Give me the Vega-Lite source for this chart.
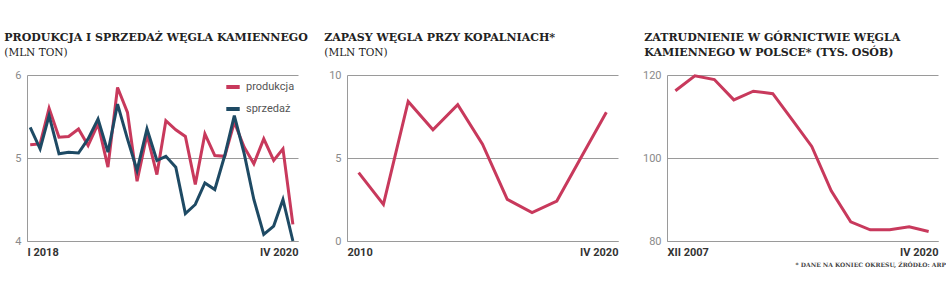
{
  "$schema": "https://vega.github.io/schema/vega-lite/v6.json",
  "background": "white",
  "padding": {"left": 4, "top": 31, "right": 0, "bottom": 0},
  "spacing": 49,
  "bounds": "flush",
  "resolve": {"scale": {"color": "independent"}, "legend": {"color": "independent"}},
  "config": {
    "view": {"stroke": null},
    "axis": {"grid": false, "ticks": false, "domainColor": "#9a9a9a", "domainWidth": 1, "labelColor": "#8a8a8a", "labelFont": "Liberation Sans Narrow, Roboto, sans-serif", "labelFontSize": 11, "title": null},
    "axisY": {"grid": true, "gridColor": "#9a9a9a", "gridWidth": 1, "labelPadding": 6, "format": "d"},
    "axisX": {"labelColor": "#333333", "labelFontWeight": "bold", "labelPadding": 5, "labelFlush": true, "labelFontSize": 11},
    "title": {"anchor": "start", "frame": "group", "font": "DejaVu Serif", "fontSize": 11, "fontWeight": "bold", "color": "#222222", "subtitleFont": "DejaVu Serif", "subtitleFontSize": 10.5, "subtitleColor": "#222222", "dx": -22.7, "offset": 11, "subtitlePadding": 5, "lineHeight": 15},
    "legend": {"orient": "top-right", "offset": 0, "padding": 3, "symbolType": "stroke", "symbolStrokeWidth": 4, "symbolSize": 180, "labelFont": "Liberation Sans Narrow, Roboto, sans-serif", "labelFontSize": 11, "labelColor": "#555555", "rowPadding": 5, "title": null}
  },
  "title": {"text": "* DANE NA KONIEC OKRESU, ŹRÓDŁO: ARP", "orient": "bottom", "anchor": "end", "frame": "bounds", "font": "DejaVu Serif", "fontSize": 6, "fontWeight": "bold", "color": "#444444", "dx": 8, "offset": 5},
  "hconcat": [
    {
      "width": 271,
      "height": 166,
      "title": {"text": "PRODUKCJA I SPRZEDAŻ WĘGLA KAMIENNEGO", "subtitle": "(MLN TON)"},
      "data": {"values": [
        {"miesiac": "2018-01-01", "seria": "produkcja", "wartosc": 5.16},
        {"miesiac": "2018-02-01", "seria": "produkcja", "wartosc": 5.17},
        {"miesiac": "2018-03-01", "seria": "produkcja", "wartosc": 5.60},
        {"miesiac": "2018-04-01", "seria": "produkcja", "wartosc": 5.25},
        {"miesiac": "2018-05-01", "seria": "produkcja", "wartosc": 5.26},
        {"miesiac": "2018-06-01", "seria": "produkcja", "wartosc": 5.35},
        {"miesiac": "2018-07-01", "seria": "produkcja", "wartosc": 5.15},
        {"miesiac": "2018-08-01", "seria": "produkcja", "wartosc": 5.41},
        {"miesiac": "2018-09-01", "seria": "produkcja", "wartosc": 4.89},
        {"miesiac": "2018-10-01", "seria": "produkcja", "wartosc": 5.85},
        {"miesiac": "2018-11-01", "seria": "produkcja", "wartosc": 5.55},
        {"miesiac": "2018-12-01", "seria": "produkcja", "wartosc": 4.72},
        {"miesiac": "2019-01-01", "seria": "produkcja", "wartosc": 5.28},
        {"miesiac": "2019-02-01", "seria": "produkcja", "wartosc": 4.80},
        {"miesiac": "2019-03-01", "seria": "produkcja", "wartosc": 5.45},
        {"miesiac": "2019-04-01", "seria": "produkcja", "wartosc": 5.34},
        {"miesiac": "2019-05-01", "seria": "produkcja", "wartosc": 5.26},
        {"miesiac": "2019-06-01", "seria": "produkcja", "wartosc": 4.68},
        {"miesiac": "2019-07-01", "seria": "produkcja", "wartosc": 5.29},
        {"miesiac": "2019-08-01", "seria": "produkcja", "wartosc": 5.03},
        {"miesiac": "2019-09-01", "seria": "produkcja", "wartosc": 5.02},
        {"miesiac": "2019-10-01", "seria": "produkcja", "wartosc": 5.43},
        {"miesiac": "2019-11-01", "seria": "produkcja", "wartosc": 5.13},
        {"miesiac": "2019-12-01", "seria": "produkcja", "wartosc": 4.93},
        {"miesiac": "2020-01-01", "seria": "produkcja", "wartosc": 5.23},
        {"miesiac": "2020-02-01", "seria": "produkcja", "wartosc": 4.97},
        {"miesiac": "2020-03-01", "seria": "produkcja", "wartosc": 5.11},
        {"miesiac": "2020-04-01", "seria": "produkcja", "wartosc": 4.20},
        {"miesiac": "2018-01-01", "seria": "sprzedaż", "wartosc": 5.37},
        {"miesiac": "2018-02-01", "seria": "sprzedaż", "wartosc": 5.11},
        {"miesiac": "2018-03-01", "seria": "sprzedaż", "wartosc": 5.51},
        {"miesiac": "2018-04-01", "seria": "sprzedaż", "wartosc": 5.05},
        {"miesiac": "2018-05-01", "seria": "sprzedaż", "wartosc": 5.07},
        {"miesiac": "2018-06-01", "seria": "sprzedaż", "wartosc": 5.06},
        {"miesiac": "2018-07-01", "seria": "sprzedaż", "wartosc": 5.23},
        {"miesiac": "2018-08-01", "seria": "sprzedaż", "wartosc": 5.47},
        {"miesiac": "2018-09-01", "seria": "sprzedaż", "wartosc": 5.07},
        {"miesiac": "2018-10-01", "seria": "sprzedaż", "wartosc": 5.65},
        {"miesiac": "2018-11-01", "seria": "sprzedaż", "wartosc": 5.23},
        {"miesiac": "2018-12-01", "seria": "sprzedaż", "wartosc": 4.85},
        {"miesiac": "2019-01-01", "seria": "sprzedaż", "wartosc": 5.35},
        {"miesiac": "2019-02-01", "seria": "sprzedaż", "wartosc": 4.97},
        {"miesiac": "2019-03-01", "seria": "sprzedaż", "wartosc": 5.02},
        {"miesiac": "2019-04-01", "seria": "sprzedaż", "wartosc": 4.89},
        {"miesiac": "2019-05-01", "seria": "sprzedaż", "wartosc": 4.33},
        {"miesiac": "2019-06-01", "seria": "sprzedaż", "wartosc": 4.44},
        {"miesiac": "2019-07-01", "seria": "sprzedaż", "wartosc": 4.70},
        {"miesiac": "2019-08-01", "seria": "sprzedaż", "wartosc": 4.62},
        {"miesiac": "2019-09-01", "seria": "sprzedaż", "wartosc": 5.03},
        {"miesiac": "2019-10-01", "seria": "sprzedaż", "wartosc": 5.51},
        {"miesiac": "2019-11-01", "seria": "sprzedaż", "wartosc": 5.05},
        {"miesiac": "2019-12-01", "seria": "sprzedaż", "wartosc": 4.50},
        {"miesiac": "2020-01-01", "seria": "sprzedaż", "wartosc": 4.08},
        {"miesiac": "2020-02-01", "seria": "sprzedaż", "wartosc": 4.18},
        {"miesiac": "2020-03-01", "seria": "sprzedaż", "wartosc": 4.50},
        {"miesiac": "2020-04-01", "seria": "sprzedaż", "wartosc": 4.00}
      ]},
      "mark": {"type": "line", "strokeWidth": 3},
      "encoding": {
        "x": {
          "field": "miesiac", "type": "temporal",
          "scale": {"type": "utc", "domain": [{"year": 2017, "month": 12, "date": 22, "utc": true}, {"year": 2020, "month": 4, "date": 17, "utc": true}]},
          "axis": {"values": [{"year": 2017, "month": 12, "date": 22, "utc": true}, {"year": 2020, "month": 4, "date": 17, "utc": true}], "labelExpr": "utcyear(datum.value) < 2019 ? 'I 2018' : 'IV 2020'"}
        },
        "y": {"field": "wartosc", "type": "quantitative", "scale": {"domain": [4, 6], "nice": false, "zero": false}, "axis": {"values": [4, 5, 6]}},
        "color": {"field": "seria", "type": "nominal", "scale": {"domain": ["produkcja", "sprzedaż"], "range": ["#c8395c", "#1e4a64"]}, "legend": {"orient": "top-right", "offset": 0}}
      }
    },
    {
      "width": 271,
      "height": 166,
      "title": {"text": "ZAPASY WĘGLA PRZY KOPALNIACH*", "subtitle": "(MLN TON)"},
      "data": {"values": [
        {"rok": 2010, "okres": "2010", "wartosc": 4.12},
        {"rok": 2011, "okres": "2011", "wartosc": 2.21},
        {"rok": 2012, "okres": "2012", "wartosc": 8.41},
        {"rok": 2013, "okres": "2013", "wartosc": 6.70},
        {"rok": 2014, "okres": "2014", "wartosc": 8.21},
        {"rok": 2015, "okres": "2015", "wartosc": 5.83},
        {"rok": 2016, "okres": "2016", "wartosc": 2.51},
        {"rok": 2017, "okres": "2017", "wartosc": 1.71},
        {"rok": 2018, "okres": "2018", "wartosc": 2.41},
        {"rok": 2019, "okres": "2019", "wartosc": 5.09},
        {"rok": 2020, "okres": "IV 2020", "wartosc": 7.75}
      ]},
      "mark": {"type": "line", "strokeWidth": 3, "color": "#c8395c"},
      "encoding": {
        "x": {
          "field": "rok", "type": "quantitative",
          "scale": {"domain": [2009.53, 2020.47], "nice": false, "zero": false},
          "axis": {"values": [2009.53, 2020.47], "labelExpr": "datum.value < 2015 ? '2010' : 'IV 2020'"}
        },
        "y": {"field": "wartosc", "type": "quantitative", "scale": {"domain": [0, 10], "nice": false}, "axis": {"values": [0, 5, 10]}}
      }
    },
    {
      "width": 271,
      "height": 166,
      "title": {"text": ["ZATRUDNIENIE W GÓRNICTWIE WĘGLA", "KAMIENNEGO W POLSCE* (TYS. OSÓB)"]},
      "data": {"values": [
        {"rok": 2007, "okres": "XII 2007", "wartosc": 116.2},
        {"rok": 2008, "okres": "2008", "wartosc": 119.8},
        {"rok": 2009, "okres": "2009", "wartosc": 118.9},
        {"rok": 2010, "okres": "2010", "wartosc": 114.0},
        {"rok": 2011, "okres": "2011", "wartosc": 116.1},
        {"rok": 2012, "okres": "2012", "wartosc": 115.5},
        {"rok": 2013, "okres": "2013", "wartosc": 109.2},
        {"rok": 2014, "okres": "2014", "wartosc": 102.8},
        {"rok": 2015, "okres": "2015", "wartosc": 92.1},
        {"rok": 2016, "okres": "2016", "wartosc": 84.6},
        {"rok": 2017, "okres": "2017", "wartosc": 82.7},
        {"rok": 2018, "okres": "2018", "wartosc": 82.7},
        {"rok": 2019, "okres": "2019", "wartosc": 83.4},
        {"rok": 2020, "okres": "IV 2020", "wartosc": 82.3}
      ]},
      "mark": {"type": "line", "strokeWidth": 3, "color": "#c8395c"},
      "encoding": {
        "x": {
          "field": "rok", "type": "quantitative",
          "scale": {"domain": [2006.57, 2020.48], "nice": false, "zero": false},
          "axis": {"values": [2006.57, 2020.48], "labelExpr": "datum.value < 2013 ? 'XII 2007' : 'IV 2020'"}
        },
        "y": {"field": "wartosc", "type": "quantitative", "scale": {"domain": [80, 120], "nice": false, "zero": false}, "axis": {"values": [80, 100, 120]}}
      }
    }
  ]
}
